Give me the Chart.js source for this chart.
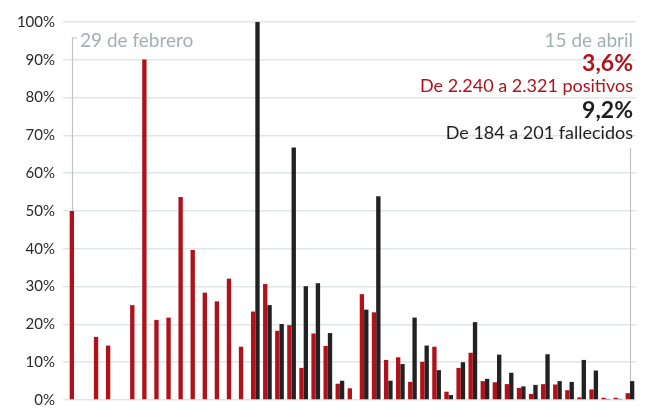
<!DOCTYPE html>
<html>
<head>
<meta charset="utf-8">
<script src="https://cdn.jsdelivr.net/npm/chart.js@4"></script>
<style>
  body { margin: 0; background: #fff; }
  #wrap { position: relative; width: 650px; height: 420px; font-family: Lato, "Open Sans", sans-serif; }
  .note { position: absolute; white-space: nowrap; line-height: 1; }
  .gray { color: #a2b0b4; font-size: 19px; }
  .red { color: #b0121b; }
  .dark { color: #1e1e1e; }
  .big { font-weight: bold; font-size: 23px; }
  .small { font-size: 18px; }
</style>
</head>
<body>
<div id="wrap">
  <canvas id="growthChart" width="650" height="420"></canvas>
  <div class="note gray" style="left:80px; top:30px;">29 de febrero</div>
  <div class="note gray" style="right:17px; top:30px;">15 de abril</div>
  <div class="note red big" style="right:17px; top:51px;">3,6%</div>
  <div class="note red small" style="right:17px; top:76px;">De 2.240 a 2.321 positivos</div>
  <div class="note dark big" style="right:17px; top:98px;">9,2%</div>
  <div class="note dark small" style="right:17px; top:123px;">De 184 a 201 fallecidos</div>
</div>
<script>
// days, 29 feb -> 15 abr
const days = ['29/2', '1/3', '2/3', '3/3', '4/3', '5/3', '6/3', '7/3', '8/3', '9/3',
  '10/3', '11/3', '12/3', '13/3', '14/3', '15/3', '16/3', '17/3', '18/3', '19/3',
  '20/3', '21/3', '22/3', '23/3', '24/3', '25/3', '26/3', '27/3', '28/3', '29/3',
  '30/3', '31/3', '1/4', '2/4', '3/4', '4/4', '5/4', '6/4', '7/4', '8/4',
  '9/4', '10/4', '11/4', '12/4', '13/4', '14/4', '15/4'];

// daily growth of positives (%)
const positivos = [50, 0, 16.7, 14.4, 0, 25.1, 90.1, 21.2, 21.8, 53.7,
  39.7, 28.4, 26.1, 32.1, 14.1, 23.4, 30.7, 18.3, 19.8, 8.5,
  17.6, 14.3, 4.3, 3.1, 28.0, 23.2, 10.6, 11.3, 4.8, 10.1,
  14.1, 2.2, 8.5, 12.5, 5.0, 4.7, 4.2, 3.2, 1.6, 4.2,
  4.1, 2.6, 0.7, 2.8, 0.6, 0.6, 1.8];

// daily growth of deaths (%)
const fallecidos = [null, null, null, null, null, null, null, null, null, null,
  null, null, null, null, null, 100, 25.1, 20.1, 66.8, 30.1,
  30.9, 17.7, 5.1, null, 23.9, 53.9, 5.1, 9.5, 21.8, 14.4,
  7.9, 1.3, 10.0, 20.6, 5.6, 12.0, 7.2, 3.6, 4.0, 12.1,
  5.0, 4.8, 10.6, 7.8, 0.3, 0.3, 5.0];

const yTicks = [0, 10, 20, 30, 40, 50, 60, 70, 80, 90, 100];

// thin guide lines from the date labels down to the first / last bars
const guideLines = {
  id: 'guideLines',
  afterDatasetsDraw(chart) {
    const ctx = chart.ctx;
    const first = chart.getDatasetMeta(0).data[0];
    const lastIdx = days.length - 1;
    const last = chart.getDatasetMeta(1).data[lastIdx];
    const xLast = chart.scales.x.getPixelForValue(lastIdx);
    ctx.save();
    ctx.strokeStyle = '#b9c5c9';
    ctx.lineWidth = 1.2;
    ctx.beginPath();
    ctx.moveTo(Math.round(first.x) + 0.5, first.y);
    ctx.lineTo(Math.round(first.x) + 0.5, 38);
    ctx.lineTo(Math.round(first.x) + 5, 38);
    ctx.moveTo(Math.round(xLast) + 0.5, 148);
    ctx.lineTo(Math.round(xLast) + 0.5, last.y);
    ctx.stroke();
    ctx.restore();
  }
};

const ctx = document.getElementById('growthChart');

new Chart(ctx, {
  type: 'bar',
  data: {
    labels: days,
    datasets: [{
      label: 'Positivos',
      data: positivos,
      backgroundColor: '#b0121b',
      barPercentage: 1,
      categoryPercentage: 0.72
    }, {
      label: 'Fallecidos',
      data: fallecidos,
      backgroundColor: '#222222',
      barPercentage: 1,
      categoryPercentage: 0.72
    }]
  },
  options: {
    responsive: false,
    animation: false,
    layout: { padding: { top: 22, right: 14, bottom: 20, left: 0 } },
    plugins: {
      legend: { display: false },
      tooltip: { enabled: false }
    },
    scales: {
      x: {
        display: false,
        offset: true
      },
      y: {
        min: 0,
        max: 100,
        afterBuildTicks: (axis) => { axis.ticks = yTicks.map(v => ({ value: v })); },
        afterFit: (axis) => { axis.width = 68; },
        border: { display: false },
        grid: { color: '#e1e7e9', lineWidth: 1.5, tickLength: 5 },
        ticks: {
          padding: 8,
          color: '#2a2a2a',
          font: { family: 'Lato', size: 15 },
          callback: (v) => v + '%'
        }
      }
    }
  },
  plugins: [guideLines]
});
</script>
</body>
</html>
